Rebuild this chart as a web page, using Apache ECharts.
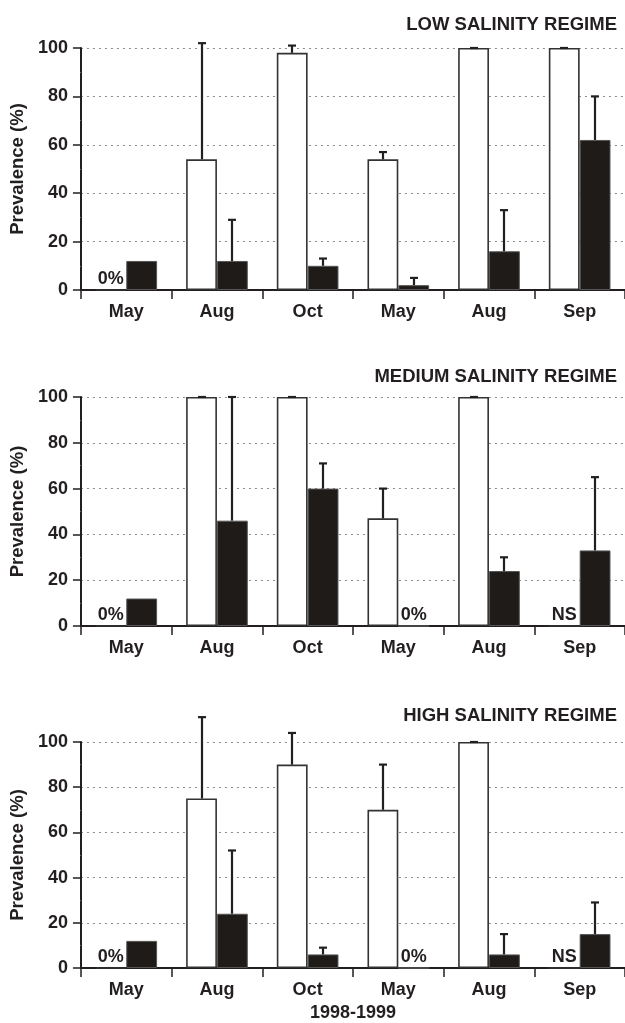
<!DOCTYPE html>
<html>
<head>
<meta charset="utf-8">
<script src="https://cdn.jsdelivr.net/npm/echarts@6/dist/echarts.min.js"></script>
<style>
  html, body { margin: 0; padding: 0; background: #fff; }
  #chart { width: 625px; height: 1023px; }
</style>
</head>
<body>
<div id="chart"></div>
<script>
// categories (1998-1999 sampling months)
const months = ['May', 'Aug', 'Oct', 'May', 'Aug', 'Sep'];
const yTicks = [0, 20, 40, 60, 80, 100];

// low salinity regime
const lowOpen = [0, 54, 98, 54, 100, 100];
const lowOpenErr = [null, 102, 101, 57, 100, 100];
const lowFilled = [12, 12, 10, 2, 16, 62];
const lowFilledErr = [null, 29, 13, 5, 33, 80];
const lowOpenNotes = ['0%', '', '', '', '', ''];
const lowFilledNotes = ['', '', '', '', '', ''];

// medium salinity regime
const medOpen = [0, 100, 100, 47, 100, 0];
const medOpenErr = [null, 100, 100, 60, 100, null];
const medFilled = [12, 46, 60, 0, 24, 33];
const medFilledErr = [null, 100, 71, null, 30, 65];
const medOpenNotes = ['0%', '', '', '', '', 'NS'];
const medFilledNotes = ['', '', '', '0%', '', ''];

// high salinity regime
const highOpen = [0, 75, 90, 70, 100, 0];
const highOpenErr = [null, 111, 104, 90, 100, null];
const highFilled = [12, 24, 6, 0, 6, 15];
const highFilledErr = [null, 52, 9, null, 15, 29];
const highOpenNotes = ['0%', '', '', '', '', 'NS'];
const highFilledNotes = ['', '', '', '0%', '', ''];

const titles = ['LOW SALINITY REGIME', 'MEDIUM SALINITY REGIME', 'HIGH SALINITY REGIME'];

const FONT = '"Liberation Sans", Arial, sans-serif';
const INK = '#231f20';
const BAR_W = 0.34;
const FS = 18;

const panels = [
  { open: lowOpen, openErr: lowOpenErr, filled: lowFilled, filledErr: lowFilledErr, openNotes: lowOpenNotes, filledNotes: lowFilledNotes },
  { open: medOpen, openErr: medOpenErr, filled: medFilled, filledErr: medFilledErr, openNotes: medOpenNotes, filledNotes: medFilledNotes },
  { open: highOpen, openErr: highOpenErr, filled: highFilled, filledErr: highFilledErr, openNotes: highOpenNotes, filledNotes: highFilledNotes }
];

const grids = [
  { left: 79, right: 0, top: 48, height: 242 },
  { left: 80, right: 0, top: 397, height: 229 },
  { left: 79, right: 0, top: 742, height: 230 }
];
const titleTops = [10, 362, 701];

// error bar drawn above a bar; side -1 = open bar, +1 = filled bar
function errRender(side) {
  return function (params, api) {
    const i = api.value(0);
    const base = api.coord([i, api.value(1)]);
    const top = api.coord([i, api.value(2)]);
    const cw = api.size([1, 0])[0];
    const x = Math.round(base[0] + side * cw * BAR_W / 2);
    const st = { stroke: INK, lineWidth: 2.2 };
    return {
      type: 'group',
      children: [
        { type: 'line', shape: { x1: x, y1: base[1], x2: x, y2: top[1] }, style: st },
        { type: 'line', shape: { x1: x - 4, y1: top[1], x2: x + 4, y2: top[1] }, style: st }
      ]
    };
  };
}

function errData(vals, errs) {
  const out = [];
  errs.forEach(function (e, i) {
    if (e != null) out.push([i, vals[i], e]);
  });
  return out;
}

function noteLabel(notes) {
  return {
    show: true,
    position: 'top',
    distance: 1,
    fontFamily: FONT,
    fontWeight: 'bold',
    fontSize: FS,
    color: INK,
    formatter: function (p) { return notes[p.dataIndex]; }
  };
}

const option = {
  animation: false,
  backgroundColor: '#fff',
  title: titles.map(function (t, k) {
    return {
      text: t,
      right: 3,
      top: titleTops[k],
      textStyle: { fontFamily: FONT, fontWeight: 'bold', fontSize: 18.5, color: INK }
    };
  }),
  grid: grids,
  xAxis: grids.map(function (g, k) {
    return {
      type: 'category',
      gridIndex: k,
      data: months,
      name: k === 2 ? '1998-1999' : '',
      nameLocation: 'middle',
      nameGap: 36,
      nameTextStyle: { fontFamily: FONT, fontWeight: 'bold', fontSize: FS, color: INK },
      axisLine: { lineStyle: { color: INK, width: 2 } },
      axisTick: { show: true, length: 9, lineStyle: { color: INK, width: 1.5 } },
      axisLabel: { fontFamily: FONT, fontWeight: 'bold', fontSize: FS, color: INK, margin: 13 }
    };
  }),
  yAxis: grids.map(function (g, k) {
    return {
      type: 'value',
      gridIndex: k,
      min: yTicks[0],
      max: yTicks[yTicks.length - 1],
      interval: 20,
      name: 'Prevalence (%)',
      nameLocation: 'middle',
      nameGap: 46,
      nameTextStyle: { fontFamily: FONT, fontWeight: 'bold', fontSize: 18.5, color: INK },
      axisLine: { show: true, lineStyle: { color: INK, width: 2 } },
      axisTick: { show: true, length: 8, lineStyle: { color: INK, width: 1.5 } },
      minorTick: { show: true, splitNumber: 2, length: 6, lineStyle: { color: '#777', width: 1, type: [1, 5] } },
      axisLabel: { fontFamily: FONT, fontWeight: 'bold', fontSize: FS, color: INK, margin: 13 },
      splitLine: { show: true, lineStyle: { color: '#8a8a8a', width: 1, type: [2, 4] } }
    };
  }),
  series: []
};

panels.forEach(function (p, k) {
  option.series.push({
    type: 'bar',
    xAxisIndex: k,
    yAxisIndex: k,
    data: p.open,
    barWidth: (BAR_W * 100) + '%',
    barGap: '0%',
    itemStyle: { color: '#fff', borderColor: '#333', borderWidth: 1.6 },
    label: noteLabel(p.openNotes),
    z: 2
  });
  option.series.push({
    type: 'bar',
    xAxisIndex: k,
    yAxisIndex: k,
    data: p.filled,
    barWidth: (BAR_W * 100) + '%',
    barGap: '0%',
    itemStyle: { color: '#1f1b18', borderColor: '#555', borderWidth: 1 },
    label: noteLabel(p.filledNotes),
    z: 2
  });
  option.series.push({
    type: 'custom',
    xAxisIndex: k,
    yAxisIndex: k,
    renderItem: errRender(-1),
    data: errData(p.open, p.openErr),
    clip: false,
    z: 3
  });
  option.series.push({
    type: 'custom',
    xAxisIndex: k,
    yAxisIndex: k,
    renderItem: errRender(1),
    data: errData(p.filled, p.filledErr),
    clip: false,
    z: 3
  });
});

const chart = echarts.init(document.getElementById('chart'), null, { renderer: 'canvas' });
chart.setOption(option);
window.addEventListener('resize', function () { chart.resize(); });
</script>
</body>
</html>
